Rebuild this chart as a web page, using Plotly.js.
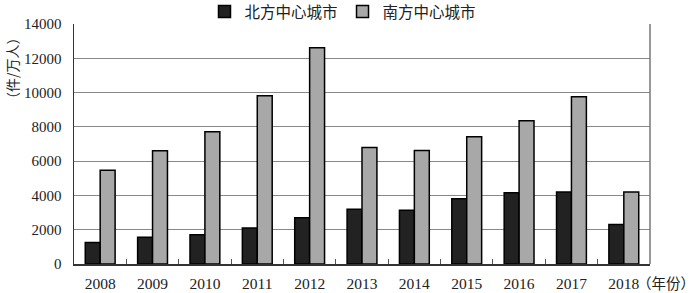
<!DOCTYPE html>
<html><head><meta charset="utf-8">
<script src="https://cdn.plot.ly/plotly-3.0.1.min.js"></script>
<style>body{margin:0;background:#fff}#c{width:700px;height:293px}</style>
</head><body><div id="c"></div>
<script>
const years = ['2008','2009','2010','2011','2012','2013','2014','2015','2016','2017','2018'];
const north = [1250,1560,1700,2100,2700,3200,3130,3800,4150,4200,2300];
const south = [5470,6600,7720,9820,12620,6800,6620,7430,8350,9750,4200];
const seriesNames = ['北方中心城市','南方中心城市'];
const serif = '"Liberation Serif","DejaVu Serif",serif';
const cjk = '"Noto Sans CJK SC","Liberation Serif",serif';
const data = [
  {type:'bar', x:years, y:north, name:seriesNames[0], marker:{color:'#222222', line:{color:'#000', width:1.5}}},
  {type:'bar', x:years, y:south, name:seriesNames[1], marker:{color:'#a8a8a8', line:{color:'#000', width:1.5}}}
];
const layout = {
  width:700, height:293,
  margin:{l:74, r:50, t:24, b:29, autoexpand:false},
  paper_bgcolor:'#fff', plot_bgcolor:'#fff',
  barmode:'group', bargap:0.43, bargroupgap:0,
  showlegend:true,
  legend:{orientation:'h', xref:'container', yref:'paper', x:0.49, xanchor:'center', y:1.05, yanchor:'middle', font:{family:cjk, size:15.5, color:'#222'}, itemwidth:30, traceorder:'normal', bgcolor:'rgba(0,0,0,0)'},
  xaxis:{type:'category', showline:true, linecolor:'#333', linewidth:1.5, ticks:'inside', tickson:'boundaries', ticklen:5, tickcolor:'#555', tickfont:{family:serif, size:15.5, color:'#222'}, showgrid:false, ticklabelstandoff:5},
  yaxis:{range:[0,14000], dtick:2000, tickformat:'d', showline:true, linecolor:'#333', linewidth:1.5, showgrid:true, gridcolor:'#888', gridwidth:1, ticks:'', tickfont:{family:serif, size:15, color:'#222'}, zeroline:false, ticklabelstandoff:8},
  shapes:[{type:'line', xref:'paper', yref:'paper', x0:1, x1:1, y0:0, y1:1, line:{color:'#777', width:1.5}}],
  annotations:[
    {text:'（件/万人）', xref:'paper', yref:'paper', x:-0.1076, xanchor:'center', y:0.817, yanchor:'middle', textangle:-90, showarrow:false, font:{family:cjk, size:14, color:'#222'}},
    {text:'（年份）', xref:'paper', yref:'paper', x:1.082, xanchor:'right', y:-0.075, yanchor:'middle', showarrow:false, font:{family:cjk, size:14.5, color:'#222'}}
  ]
};
Plotly.newPlot('c', data, layout, {displayModeBar:false, staticPlot:true});
</script></body></html>
